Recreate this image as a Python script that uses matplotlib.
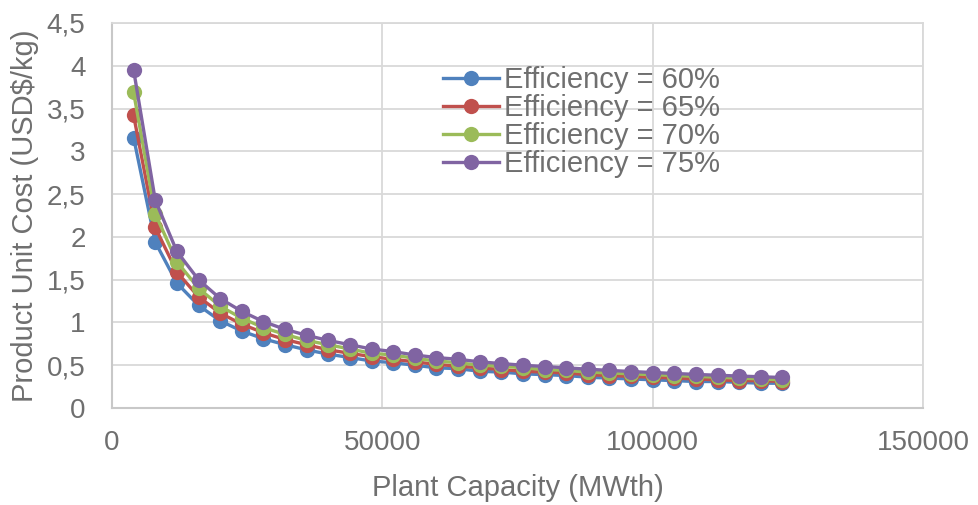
import matplotlib
matplotlib.use("Agg")
import matplotlib.pyplot as plt
from matplotlib.ticker import FuncFormatter, MultipleLocator

plt.rcParams['font.family'] = ['Liberation Sans', 'DejaVu Sans']

capacity = [4000 * i for i in range(1, 32)]

eff60 = [3.16, 1.94, 1.46, 1.20, 1.02, 0.90, 0.81, 0.74, 0.68, 0.63, 0.59, 0.55, 0.53,
         0.50, 0.47, 0.46, 0.43, 0.42, 0.40, 0.39, 0.38, 0.36, 0.35, 0.34, 0.33, 0.32,
         0.31, 0.31, 0.30, 0.29, 0.29]
eff65 = [3.42, 2.11, 1.59, 1.30, 1.11, 0.98, 0.88, 0.80, 0.74, 0.68, 0.64, 0.60, 0.57,
         0.54, 0.51, 0.49, 0.47, 0.45, 0.43, 0.42, 0.41, 0.39, 0.38, 0.37, 0.36, 0.35,
         0.34, 0.33, 0.32, 0.32, 0.31]
eff70 = [3.69, 2.27, 1.71, 1.40, 1.19, 1.05, 0.94, 0.86, 0.79, 0.74, 0.69, 0.64, 0.62,
         0.58, 0.55, 0.53, 0.50, 0.49, 0.47, 0.45, 0.44, 0.42, 0.41, 0.40, 0.39, 0.38,
         0.37, 0.36, 0.35, 0.34, 0.33]
eff75 = [3.95, 2.43, 1.83, 1.50, 1.28, 1.13, 1.01, 0.92, 0.85, 0.79, 0.74, 0.69, 0.66,
         0.62, 0.59, 0.57, 0.54, 0.52, 0.50, 0.485, 0.47, 0.454, 0.44, 0.427, 0.415, 0.404,
         0.393, 0.383, 0.374, 0.365, 0.357]

series = [("Efficiency = 60%", eff60, "#4F81BD"),
          ("Efficiency = 65%", eff65, "#C0504D"),
          ("Efficiency = 70%", eff70, "#9BBB59"),
          ("Efficiency = 75%", eff75, "#8064A2")]

text_color = "#6f6f6f"
grid_color = "#d9d9d9"

fig = plt.figure(figsize=(9.79, 5.05), dpi=100)
ax = fig.add_axes([0.1144, 0.192, 0.8284, 0.7625])

for label, vals, col in series:
    ax.plot(capacity, vals, color=col, lw=2.4, marker='o', markersize=11,
            markeredgewidth=0, label=label, zorder=3)

ax.set_xlim(0, 150000)
ax.set_ylim(0, 4.5)
ax.xaxis.set_major_locator(MultipleLocator(50000))
ax.yaxis.set_major_locator(MultipleLocator(0.5))
ax.yaxis.set_major_formatter(FuncFormatter(lambda v, p: (f"{v:g}").replace('.', ',')))
ax.xaxis.set_major_formatter(FuncFormatter(lambda v, p: f"{int(v)}"))

ax.grid(True, color=grid_color, lw=1.3, zorder=0)
ax.set_axisbelow(True)
for s in ['top', 'right']:
    ax.spines[s].set_color(grid_color)
    ax.spines[s].set_linewidth(1.3)
for s in ['left', 'bottom']:
    ax.spines[s].set_color("#c8c8c8")
    ax.spines[s].set_linewidth(1.5)

ax.tick_params(length=0, labelsize=20, colors=text_color)
ax.tick_params(axis='y', pad=19)
ax.tick_params(axis='x', pad=16)

ax.set_xlabel("Plant Capacity (MWth)", fontsize=21, color=text_color, labelpad=13)
ax.set_ylabel("Product Unit Cost (USD$/kg)", fontsize=21, color=text_color, labelpad=6)

leg = ax.legend(loc='upper left', bbox_to_anchor=(0.394, 0.919), frameon=False,
                fontsize=21, handlelength=1.9, handletextpad=0.17,
                labelspacing=0.0, borderaxespad=0)
for t in leg.get_texts():
    t.set_color(text_color)

fig.savefig("out.png", dpi=100)
